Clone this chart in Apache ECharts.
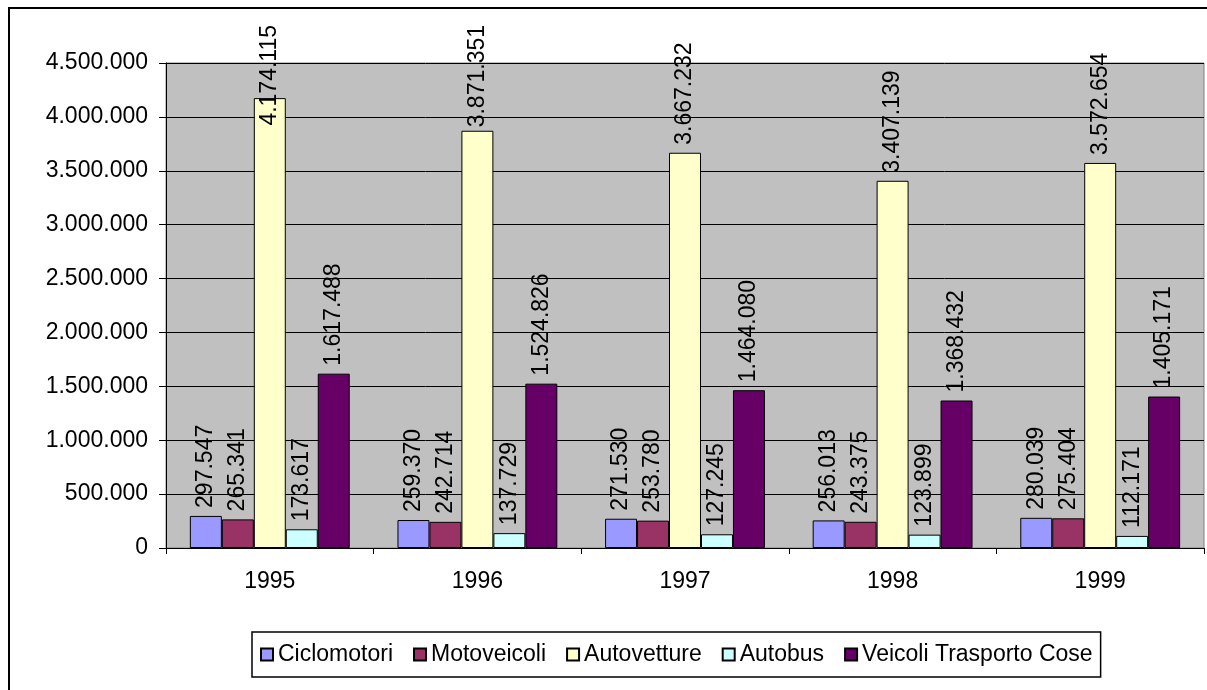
<!DOCTYPE html>
<html>
<head>
<meta charset="utf-8">
<script src="https://cdn.jsdelivr.net/npm/echarts@6/dist/echarts.min.js"></script>
<style>
  html, body { margin: 0; padding: 0; background: #fff; }
  #chart { width: 1207px; height: 690px; }
</style>
</head>
<body>
<div id="chart"></div>
<script>
// Parco veicoli per anno e categoria
const years = ['1995', '1996', '1997', '1998', '1999'];
const ciclomotori = [297547, 259370, 271530, 256013, 280039];
const motoveicoli = [265341, 242714, 253780, 243375, 275404];
const autovetture = [4174115, 3871351, 3667232, 3407139, 3572654];
const autobus = [173617, 137729, 127245, 123899, 112171];
const veicoliTrasportoCose = [1617488, 1524826, 1464080, 1368432, 1405171];

const seriesNames = ['Ciclomotori', 'Motoveicoli', 'Autovetture', 'Autobus', 'Veicoli Trasporto Cose'];
const seriesValues = [ciclomotori, motoveicoli, autovetture, autobus, veicoliTrasportoCose];
const seriesColors = ['#9999FF', '#993366', '#FFFFCC', '#CCFFFF', '#660066'];

const FONT = '"Liberation Sans", Arial, sans-serif';
const LABEL_SIZE = 23;
const LABEL_GAP = 8;        // space between bar top and its label
const LABEL_TOP_LIMIT = 25; // labels may not rise above this line

// Italian thousands separator: 4174115 -> 4.174.115
function fmt(v) {
  return String(v).replace(/\B(?=(\d{3})+(?!\d))/g, '.');
}

const chart = echarts.init(document.getElementById('chart'), null, { renderer: 'canvas' });

function buildSeries(dataFor) {
  return seriesNames.map((name, i) => ({
    name: name,
    type: 'bar',
    data: dataFor(i),
    barGap: '0%',
    barCategoryGap: '23%',
    itemStyle: { color: seriesColors[i], borderColor: '#000', borderWidth: 1 },
    label: {
      show: true,
      position: 'top',
      distance: LABEL_GAP,
      rotate: 90,
      align: 'left',
      verticalAlign: 'middle',
      fontFamily: FONT,
      fontSize: LABEL_SIZE,
      color: '#000',
      formatter: p => fmt(p.value)
    }
  }));
}

chart.setOption({
  animation: false,
  backgroundColor: '#FFFFFF',
  textStyle: { fontFamily: FONT, color: '#000' },
  graphic: [{
    type: 'rect',
    silent: true,
    z: -1,
    shape: { x: 9, y: 8, width: 1400, height: 900 },
    style: { fill: 'none', stroke: '#000', lineWidth: 2 }
  }],
  grid: {
    left: 166, top: 63, right: 3, bottom: 142,
    show: true,
    backgroundColor: '#C0C0C0',
    borderColor: '#808080',
    borderWidth: 1
  },
  legend: {
    data: seriesNames,
    left: 252,
    top: 632,
    padding: [11, 8],
    itemGap: 20,
    itemWidth: 12,
    itemHeight: 12,
    icon: 'rect',
    borderColor: '#000',
    borderWidth: 1.5,
    backgroundColor: '#FFFFFF',
    textStyle: { fontFamily: FONT, fontSize: 23, color: '#000' }
  },
  xAxis: {
    type: 'category',
    data: years,
    axisLine: { lineStyle: { color: '#000', width: 1 } },
    axisTick: { show: true, length: 6, lineStyle: { color: '#000' } },
    axisLabel: { fontFamily: FONT, fontSize: 23, color: '#000', margin: 22 },
    splitLine: { show: false }
  },
  yAxis: {
    type: 'value',
    min: 0,
    max: 4500000,
    interval: 500000,
    axisLine: { show: true, lineStyle: { color: '#000', width: 1 } },
    axisTick: { show: true, length: 7, lineStyle: { color: '#000' } },
    axisLabel: { fontFamily: FONT, fontSize: 23, color: '#000', margin: 18, formatter: fmt },
    splitLine: { show: true, lineStyle: { color: '#000', width: 1 } }
  },
  series: buildSeries(i => seriesValues[i])
});

// Labels that would rise above the frame are anchored lower, overlapping their bar.
const measureCtx = document.createElement('canvas').getContext('2d');
measureCtx.font = LABEL_SIZE + 'px ' + FONT;
chart.setOption({
  series: buildSeries(i => seriesValues[i].map(v => {
    const barTop = chart.convertToPixel({ yAxisIndex: 0 }, v);
    const len = measureCtx.measureText(fmt(v)).width;
    const top = barTop - LABEL_GAP - len;
    if (top >= LABEL_TOP_LIMIT) return v;
    // anchor measured from the bar's own top-left corner
    return { value: v, label: { position: ['50%', LABEL_TOP_LIMIT + len - barTop] } };
  }))
});
</script>
</body>
</html>
